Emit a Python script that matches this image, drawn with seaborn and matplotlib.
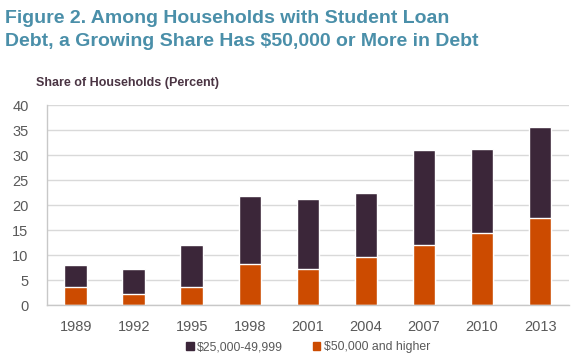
import numpy as np
import pandas as pd
import matplotlib
import matplotlib.pyplot as plt
import seaborn as sns
from matplotlib.patches import Patch
matplotlib.use('Agg')

# data
years = ['1989', '1992', '1995', '1998', '2001', '2004', '2007', '2010', '2013']
share_50k_plus = [3.6, 2.3, 3.6, 8.2, 7.2, 9.6, 12.1, 14.5, 17.5]
share_25k_50k = [4.5, 5.0, 8.4, 13.6, 14.0, 12.8, 18.9, 16.8, 18.2]

dark = '#3b2639'
orange = '#cc4b00'
teal = '#4a8fa9'
grey = '#595959'

df = pd.DataFrame({'year': years, 'low': share_50k_plus, 'mid': share_25k_50k})
df['total'] = df['low'] + df['mid']

sns.set_style('white')
plt.rcParams['font.family'] = ['Liberation Sans', 'DejaVu Sans']

fig = plt.figure(figsize=(5.76, 3.61), dpi=100)
ax = fig.add_axes([0.081, 0.155, 0.907, 0.554])

# stacked bars: total in dark, lower segment in orange on top of it
sns.barplot(data=df, x='year', y='total', color=dark, width=0.39, saturation=1, ax=ax)
sns.barplot(data=df, x='year', y='low', color=orange, width=0.39, saturation=1, ax=ax)

ax.set_ylim(0, 40)
ax.set_xlim(-0.5, len(years) - 0.5)
ax.set_yticks(np.arange(0, 41, 5))
ax.yaxis.grid(True, color='#d9d9d9', linewidth=1)
ax.set_axisbelow(True)
ax.set_xlabel('')
ax.set_ylabel('')

for s in ['top', 'right']:
    ax.spines[s].set_visible(False)
for s in ['left', 'bottom']:
    ax.spines[s].set_color('#c8c8c8')
    ax.spines[s].set_linewidth(1)

ax.tick_params(axis='x', length=0, pad=11, labelsize=10.5, labelcolor=grey)
ax.set_xticks(np.arange(-0.5, len(years), 1), minor=True)
ax.tick_params(axis='x', which='minor', length=5, color='#c8c8c8', direction='out')
ax.tick_params(axis='y', length=5, color='#c8c8c8', labelsize=10.5, labelcolor=grey, pad=8)

fig.text(0.008, 0.972, 'Figure 2. Among Households with Student Loan\nDebt, a Growing Share Has $50,000 or More in Debt',
         fontsize=14, fontweight='bold', color=teal, va='top', ha='left', linespacing=1.45)
fig.text(0.062, 0.77, 'Share of Households (Percent)', fontsize=9, fontweight='bold',
         color='#4a3443', va='center', ha='left')

handles = [Patch(color=dark, label='$25,000-49,999'),
           Patch(color=orange, label='$50,000 and higher')]
fig.legend(handles=handles, loc='center', bbox_to_anchor=(0.535, 0.038), ncol=2, frameon=False,
           fontsize=8.8, labelcolor=grey, handlelength=0.6, handleheight=0.6,
           handletextpad=0.3, columnspacing=2.4)

plt.savefig('out.png', dpi=100)
